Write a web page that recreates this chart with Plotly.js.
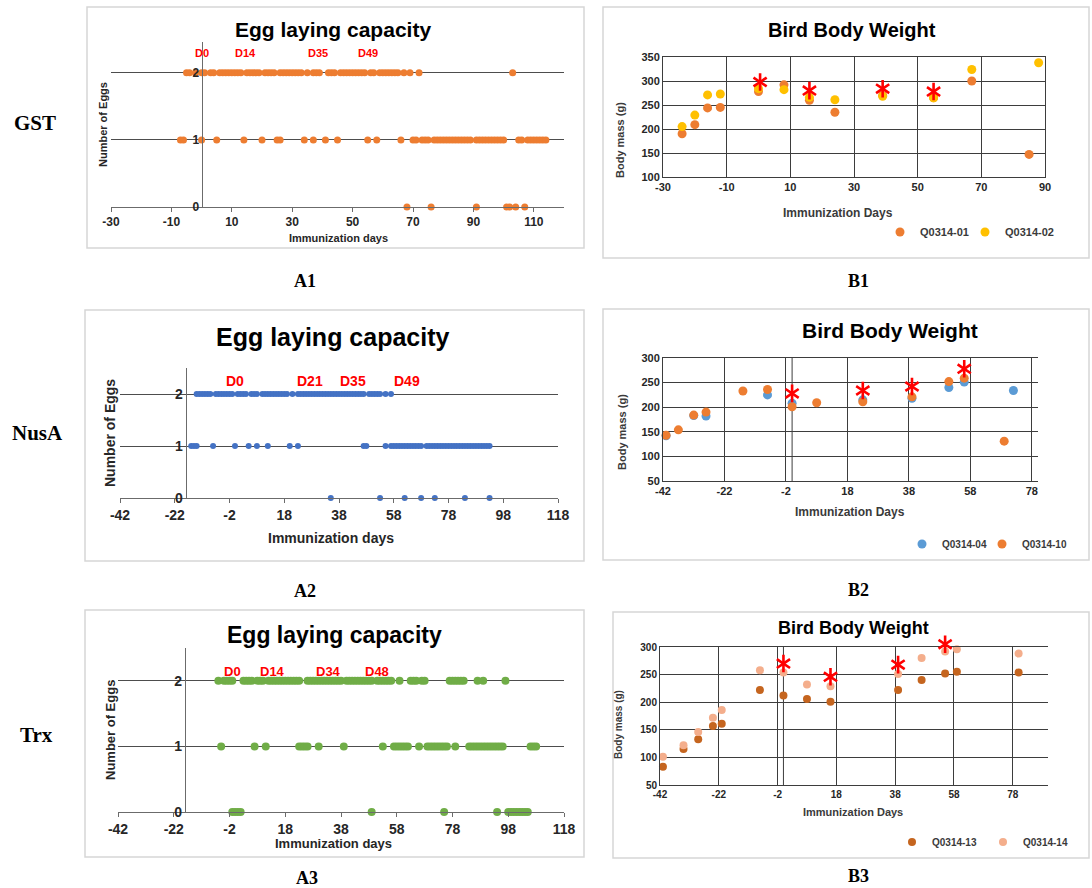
<!DOCTYPE html>
<html><head><meta charset="utf-8">
<script src="https://cdn.plot.ly/plotly-3.0.1.min.js"></script>
<style>html,body{margin:0;padding:0;background:#fff;} #chart{width:1092px;height:888px;}</style>
</head><body><div id="chart"></div>
<script>
// ---------------- DATA ----------------
// A1 GST egg laying: days with 2, 1, 0 eggs
const gstEggDays2 = [-5,-4,-2,0,1,3,4,6,7,8,9,10,11,12,13,15,16,17,18,19,21,22,23,24,26,27,28,29,30,31,32,33,35,37,38,39,42,43,44,46,47,48,49,50,51,52,53,54,56,57,59,60,61,62,63,64,65,67,69,72,103];
const gstEggDays1 = [-7,-6,0,5,14,20,25,26,34,37,41,45,55,58,66,70,71,73,74,75,77,78,79,80,81,82,83,84,85,86,87,88,89,91,92,93,94,95,96,97,98,99,100,105,106,108,109,110,111,112,113,114];
const gstEggDays0 = [68,76,91,101,102,104,107];
const gstDoseLabels = ['D0','D14','D35','D49'];
const gstDoseX = [0,14.5,38.5,55];
const gstEggXTicks = ['-30','-10','10','30','50','70','90','110'];

// A2 NusA egg laying
const nusEggDays2 = [-14,-13,-12,-11,-10,-9,-7,-6,-5,-4,-3,-2,-1,1,2,3,4,6,7,8,10,11,12,13,14,15,16,17,18,19,21,23,24,25,26,27,28,29,30,31,32,33,34,35,36,37,38,39,40,41,42,43,44,45,46,47,49,50,51,52,53,55,57];
const nusEggDays1 = [-16,-15,-14,-8,0,5,8,12,20,23,47,48,55,57,58,59,60,61,62,63,64,65,66,67,68,70,71,72,73,74,75,76,77,78,79,80,81,82,83,84,85,86,87,88,89,90,91,92,93];
const nusEggDays0 = [35,53,62,68,73,84,93];
const nusDoseLabels = ['D0','D21','D35','D49'];
const nusDoseX = [0,27.5,43,63];

// A3 Trx egg laying
const trxEggDays2 = [-6,-4,-3,-2,-1,3,4,5,6,8,9,10,12,13,14,15,16,17,18,19,20,21,22,23,26,27,28,29,30,31,32,33,34,35,36,37,38,40,41,42,43,44,45,46,47,48,49,51,52,53,54,55,56,59,63,64,65,67,68,77,78,79,80,81,82,87,89,97];
const trxEggDays1 = [-5,7,11,23,24,25,26,30,39,53,57,58,59,60,61,62,66,69,70,71,72,73,74,75,76,79,84,85,86,87,88,89,90,91,92,93,94,95,96,106,107,108];
const trxEggDays0 = [-1,0,1,2,49,75,94,98,99,100,101,102,103,104,105];
const trxDoseLabels = ['D0','D14','D34','D48'];
const trxDoseX = [-1,13.3,33.4,51];
const eggXTicks42 = ['-42','-22','-2','18','38','58','78','98','118'];
const eggYTicks = ['0','1','2'];

// B1 GST body weight
const gstWtDays01 = [-24,-20,-16,-12,0,8,16,24,39,55,67,85];
const gstWt01     = [190,209,244,245,278,292,260,235,270,265,300,147];
const gstWtDays02 = [-24,-20,-16,-12,0,8,16,24,39,55,67,88];
const gstWt02     = [205,229,271,273,284,282,266,261,268,265,324,338];
const gstStarDays = [0.5,16,39,55];
const gstStarWt   = [298,280,284,278];
const gstWtXTicks = ['-30','-10','10','30','50','70','90'];
const gstWtYTicks = ['100','150','200','250','300','350'];

// B2 NusA body weight
const nusWtDays04 = [-41,-32,-28,-8,0,23,39,51,56,72];
const nusWt04     = [142,183,182,225,208,215,218,240,251,234];
const nusWtDays10 = [-41,-37,-32,-28,-16,-8,0,8,23,39,51,56,69];
const nusWt10     = [143,154,184,190,233,236,201,209,211,221,252,259,131];
const nusStarDays = [0,23,39,56];
const nusStarWt   = [228,234,242,278];

// B3 Trx body weight
const trxWtDays = [-41,-34,-29,-24,-21,-8,0,8,16,39,47,55,59,80];
const trxWt13   = [83,115,133,157,161,222,212,206,201,222,240,252,255,254];
const trxWt14   = [101,122,146,172,186,258,254,232,229,251,280,292,296,288];
const trxStarDays = [0,16,39,55];
const trxStarWt   = [270,246,268,305];
const wtXTicks42 = ['-42','-22','-2','18','38','58','78'];
const wtYTicks50 = ['50','100','150','200','250','300'];

// ---------------- LAYOUT HELPERS ----------------
const W = 1092, H = 888;
const fx = p => p / W, fy = p => 1 - p / H;
const SANS = 'Liberation Sans, Arial, sans-serif';
const SERIF = 'Liberation Serif, Times New Roman, serif';
const tv = labels => labels.map(Number);

function eggAxes(px, py, range, top, yAt, tf, yid, xt) {
  const pos = fx(px[0] + (yAt - range[0]) / (range[1] - range[0]) * (px[1] - px[0]));
  const font = {family: SANS, size: tf, color: '#262626', weight: 700};
  return {
    x: {domain: [fx(px[0]), fx(px[1])], anchor: yid, range: range, tickmode: 'array', tickvals: tv(xt), ticktext: xt,
        showgrid: false, zeroline: false, showline: true, linecolor: '#6b6b6b', linewidth: 1,
        ticks: 'outside', ticklen: 4, tickcolor: '#6b6b6b', tickfont: font, fixedrange: true},
    y: {domain: [fy(py[1]), fy(py[0])], anchor: 'free', position: pos, range: [0, top],
        tickmode: 'array', tickvals: tv(eggYTicks), ticktext: eggYTicks,
        showgrid: true, gridcolor: '#4d4d4d', gridwidth: 1, zeroline: false, showline: true,
        linecolor: '#6b6b6b', linewidth: 1, ticks: '', tickfont: font, fixedrange: true}
  };
}
function bodyAxes(px, py, xr, yr, mirrorY, tf, yid, xid, xt, yt) {
  const font = {family: SANS, size: tf, color: '#262626', weight: 700};
  const gc = '#3d3d3d';
  return {
    x: {domain: [fx(px[0]), fx(px[1])], anchor: yid, range: xr, tickmode: 'array', tickvals: tv(xt), ticktext: xt,
        showgrid: true, gridcolor: gc, gridwidth: 1, zeroline: false, showline: true, mirror: true,
        linecolor: gc, linewidth: 1, ticks: '', tickfont: font, fixedrange: true},
    y: {domain: [fy(py[1]), fy(py[0])], anchor: xid, range: yr, tickmode: 'array', tickvals: tv(yt), ticktext: yt,
        showgrid: true, gridcolor: gc, gridwidth: 1, zeroline: false, showline: true, mirror: mirrorY,
        linecolor: gc, linewidth: 1, ticks: '', tickfont: font, fixedrange: true}
  };
}

const A1 = eggAxes([111, 564], [42, 207], [-30, 120], 2.46, 0, 12, 'y', gstEggXTicks);
const B1 = bodyAxes([663, 1045], [57, 177], [-30, 90], [100, 350], true, 11, 'y2', 'x2', gstWtXTicks, gstWtYTicks);
const A2 = eggAxes([120, 558], [368, 498], [-42, 118], 2.5, -18, 14, 'y3', eggXTicks42);
const B2 = bodyAxes([663, 1038], [358, 481], [-42, 80], [50, 300], false, 11, 'y4', 'x4', wtXTicks42, wtYTicks50);
const A3 = eggAxes([118, 564], [648, 812], [-42, 118], 2.5, -18, 14, 'y5', eggXTicks42);
const B3 = bodyAxes([660, 1048], [647, 785], [-42, 90], [50, 300], false, 10, 'y6', 'x6', wtXTicks42, wtYTicks50);
// hidden overlay axes for B3 so that the star above the 300 line stays visible
const b3Extra = 20, b3Scale = (785 - 647) / 250;
const X7 = {domain: B3.x.domain, range: B3.x.range, visible: false, anchor: 'y7', fixedrange: true};
const Y7 = {domain: [fy(785), fy(647 - b3Extra)], range: [50, 300 + b3Extra / b3Scale], visible: false, anchor: 'x7', fixedrange: true};

// ---------------- TRACES ----------------
function eggTrace(days, count, color, size, xa, ya) {
  return {type: 'scatter', mode: 'markers', x: days, y: days.map(() => count), xaxis: xa, yaxis: ya,
    marker: {color: color, size: size, line: {width: 0}}, cliponaxis: false, showlegend: false, hoverinfo: 'skip'};
}
function wtTrace(days, vals, color, name, size, xa, ya, lg) {
  return {type: 'scatter', mode: 'markers', x: days, y: vals, name: name, xaxis: xa, yaxis: ya, legend: lg,
    marker: {color: color, size: size, line: {width: 0}}, cliponaxis: false, showlegend: true};
}
function starTraces(days, vals, xa, ya) {
  return ['y-up-open', 'y-down-open'].map(s => ({type: 'scatter', mode: 'markers', x: days, y: vals,
    xaxis: xa, yaxis: ya, showlegend: false, cliponaxis: false, hoverinfo: 'skip',
    marker: {symbol: s, size: 11, color: '#ff0000', line: {color: '#ff0000', width: 2.6}}}));
}

const ORANGE = '#ED7D31', YELLOW = '#FFC000', BLUE_A = '#4472C4', BLUE_B = '#5B9BD5',
      GREEN = '#70AD47', DARKOR = '#C5651F', SALMON = '#F4AE8C';

const data = [
  eggTrace(gstEggDays2, 2, ORANGE, 7, 'x', 'y'),
  eggTrace(gstEggDays1, 1, ORANGE, 7, 'x', 'y'),
  eggTrace(gstEggDays0, 0, ORANGE, 7, 'x', 'y'),
  wtTrace(gstWtDays01, gstWt01, ORANGE, 'Q0314-01', 9, 'x2', 'y2', 'legend'),
  wtTrace(gstWtDays02, gstWt02, YELLOW, 'Q0314-02', 9, 'x2', 'y2', 'legend2'),
  ...starTraces(gstStarDays, gstStarWt, 'x2', 'y2'),
  eggTrace(nusEggDays2, 2, BLUE_A, 6, 'x3', 'y3'),
  eggTrace(nusEggDays1, 1, BLUE_A, 6, 'x3', 'y3'),
  eggTrace(nusEggDays0, 0, BLUE_A, 6, 'x3', 'y3'),
  wtTrace(nusWtDays04, nusWt04, BLUE_B, 'Q0314-04', 9, 'x4', 'y4', 'legend3'),
  wtTrace(nusWtDays10, nusWt10, ORANGE, 'Q0314-10', 9, 'x4', 'y4', 'legend4'),
  ...starTraces(nusStarDays, nusStarWt, 'x4', 'y4'),
  eggTrace(trxEggDays2, 2, GREEN, 8, 'x5', 'y5'),
  eggTrace(trxEggDays1, 1, GREEN, 8, 'x5', 'y5'),
  eggTrace(trxEggDays0, 0, GREEN, 8, 'x5', 'y5'),
  wtTrace(trxWtDays, trxWt13, DARKOR, 'Q0314-13', 8, 'x6', 'y6', 'legend5'),
  wtTrace(trxWtDays, trxWt14, SALMON, 'Q0314-14', 8, 'x6', 'y6', 'legend6'),
  ...starTraces(trxStarDays, trxStarWt, 'x7', 'y7')
];

// ---------------- ANNOTATIONS ----------------
const ann = [];
function txt(text, x, y, font, opts) {
  ann.push(Object.assign({text: text, x: fx(x), y: fy(y), xref: 'paper', yref: 'paper',
    xanchor: 'center', yanchor: 'middle', showarrow: false, font: font}, opts || {}));
}
const sans = (s, c) => ({family: SANS, size: s, color: c || '#000', weight: 700});
const serif = s => ({family: SERIF, size: s, color: '#000', weight: 700});
// panel titles
txt('Egg laying capacity', 333, 30, sans(21));
txt('Bird Body Weight', 852, 30, sans(20));
txt('Egg laying capacity', 333, 337, sans(25));
txt('Bird Body Weight', 890, 330, sans(21));
txt('Egg laying capacity', 334, 635, sans(23));
txt('Bird Body Weight', 853, 628, sans(18));
// axis titles
txt('Immunization days', 338, 238, sans(11, '#262626'));
txt('Immunization days', 331, 538, sans(14, '#262626'));
txt('Immunization days', 333, 843, sans(13, '#262626'));
txt('Immunization Days', 838, 213, sans(12, '#3a3a3a'));
txt('Immunization Days', 850, 512, sans(12, '#3a3a3a'));
txt('Immunization Days', 853, 812, sans(11, '#3a3a3a'));
txt('Number of Eggs', 103, 125, sans(11, '#262626'), {textangle: -90});
txt('Number of Eggs', 110, 433, sans(14, '#262626'), {textangle: -90});
txt('Number of Eggs', 110, 730, sans(13, '#262626'), {textangle: -90});
txt('Body mass (g)', 620, 140, sans(11, '#3a3a3a'), {textangle: -90});
txt('Body mass (g)', 622, 432, sans(11, '#3a3a3a'), {textangle: -90});
txt('Body mass (g)', 618, 725, sans(10, '#3a3a3a'), {textangle: -90});
// row labels and panel labels
txt('GST', 35, 123, serif(21));
txt('NusA', 37, 433, serif(21));
txt('Trx', 36, 735, serif(21));
txt('A1', 305, 281, serif(18));
txt('B1', 858, 281, serif(18));
txt('A2', 305, 591, serif(18));
txt('B2', 858, 590, serif(18));
txt('A3', 307, 878, serif(18));
txt('B3', 858, 876, serif(18));
// dose labels (red)
function doses(labels, xs, yv, size, xa, ya) {
  labels.forEach((l, i) => ann.push({text: l, x: xs[i], y: yv, xref: xa, yref: ya, showarrow: false,
    xanchor: 'center', yanchor: 'middle', font: sans(size, '#ff0000')}));
}
doses(gstDoseLabels, gstDoseX, 2.3, 11, 'x', 'y');
doses(nusDoseLabels, nusDoseX, 2.25, 14, 'x3', 'y3');
doses(trxDoseLabels, trxDoseX, 2.14, 13, 'x5', 'y5');

// ---------------- SHAPES ----------------
const boxes = [[87, 7, 584, 248], [603, 7, 1089, 258], [85, 310, 584, 561], [603, 309, 1089, 560],
               [85, 610, 584, 857], [613, 612, 1089, 858]];
const shapes = boxes.map(b => ({type: 'rect', xref: 'paper', yref: 'paper', x0: fx(b[0]), x1: fx(b[2]),
  y0: fy(b[3]), y1: fy(b[1]), line: {color: '#d6d6d6', width: 1.5}, layer: 'below'}));
// extra vertical reference lines at immunization day 0 in B2 and B3
[['x4', 'y4'], ['x6', 'y6']].forEach(p => shapes.push({type: 'line', xref: p[0], yref: p[1] + ' domain',
  x0: 0, x1: 0, y0: 0, y1: 1, line: {color: '#3d3d3d', width: 1}, layer: 'below'}));

const legendAt = (x, y, fs) => ({x: fx(x), y: fy(y), xanchor: 'left', yanchor: 'middle', orientation: 'h',
  bgcolor: 'rgba(0,0,0,0)', itemwidth: 30, tracegroupgap: 0,
  font: {family: SANS, size: fs, color: '#3a3a3a', weight: 700}});

const layout = {
  width: W, height: H, margin: {l: 0, r: 0, t: 0, b: 0}, paper_bgcolor: '#fff', plot_bgcolor: 'rgba(0,0,0,0)',
  showlegend: true,
  xaxis: A1.x, yaxis: A1.y, xaxis2: B1.x, yaxis2: B1.y, xaxis3: A2.x, yaxis3: A2.y,
  xaxis4: B2.x, yaxis4: B2.y, xaxis5: A3.x, yaxis5: A3.y, xaxis6: B3.x, yaxis6: B3.y,
  xaxis7: X7, yaxis7: Y7,
  legend: legendAt(880, 232, 11), legend2: legendAt(965, 232, 11),
  legend3: legendAt(902, 544, 10), legend4: legendAt(982, 544, 10),
  legend5: legendAt(892, 842, 10), legend6: legendAt(983, 842, 10),
  annotations: ann, shapes: shapes
};
Plotly.newPlot('chart', data, layout, {displayModeBar: false, staticPlot: true});
</script></body></html>
